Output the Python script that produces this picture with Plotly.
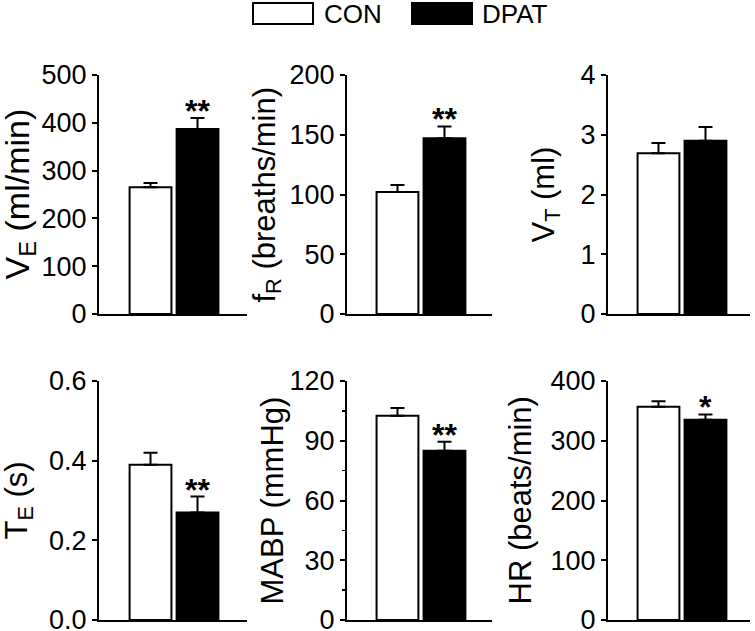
import plotly.graph_objects as go

# ---------------- data ----------------
groups = ["CON", "DPAT"]

ve_mean = [265, 387]
ve_err = [9, 23]
fr_mean = [102, 147]
fr_err = [6, 10]
vt_mean = [2.69, 2.90]
vt_err = [0.17, 0.23]
te_mean = [0.39, 0.27]
te_err = [0.03, 0.04]
mabp_mean = [102.5, 85.0]
mabp_err = [4.0, 4.5]
hr_mean = [357, 335]
hr_err = [9, 9]

ve_sig = ["", "**"]
fr_sig = ["", "**"]
vt_sig = ["", ""]
te_sig = ["", "**"]
mabp_sig = ["", "**"]
hr_sig = ["", "*"]

titles = ["V<sub>E</sub> (ml/min)", "f<sub>R</sub> (breaths/min)", "V<sub>T</sub> (ml)",
          "T<sub>E</sub> (s)", "MABP (mmHg)", "HR (beats/min)"]

y_ranges = [[0, 500], [0, 200], [0, 4], [0, 0.6], [0, 120], [0, 400]]
y_dticks = [100, 50, 1, 0.2, 30, 100]
y_tickformats = ["d", "d", "d", ".1f", "d", "d"]

# ---------------- styling / layout ----------------
W, H = 755, 631
FONT = "Liberation Sans, Arial, Helvetica, sans-serif"
TICK_SIZE = 27
title_sizes = [34, 31, 31, 31, 31, 31]

col_px = [(99, 247), (347, 492), (608, 750)]
row_px = [(75, 314), (381, 620)]
x_ranges = [[-1.096, 2.053], [-1.074, 2.011], [-1.074, 1.947]]
title_x_px = [[19, 266, 545], [18, 272, 520]]

panels = [
    (ve_mean, ve_err, ve_sig),
    (fr_mean, fr_err, fr_sig),
    (vt_mean, vt_err, vt_sig),
    (te_mean, te_err, te_sig),
    (mabp_mean, mabp_err, mabp_sig),
    (hr_mean, hr_err, hr_sig),
]

fig = go.Figure()
layout = dict(
    width=W, height=H, autosize=False,
    margin=dict(l=0, r=0, t=0, b=0, autoexpand=False),
    paper_bgcolor="white", plot_bgcolor="white",
    showlegend=False,
    font=dict(family=FONT, color="black", size=TICK_SIZE),
    bargap=0,
)
annotations = []
shapes = []

for i, (mean, err, sig) in enumerate(panels):
    r, c = divmod(i, 3)
    n = i + 1
    xa = "x" if n == 1 else f"x{n}"
    ya = "y" if n == 1 else f"y{n}"
    fig.add_trace(go.Bar(
        x=groups, y=mean, xaxis=xa, yaxis=ya,
        width=0.89,
        marker=dict(color=["white", "black"], line=dict(color="black", width=2)),
        error_y=dict(type="data", symmetric=False, array=err, arrayminus=[0] * len(err),
                     color="black", thickness=2, width=7),
        hoverinfo="skip",
    ))
    x0, x1 = col_px[c]
    y0, y1 = row_px[r]
    xkey = "xaxis" if n == 1 else f"xaxis{n}"
    ykey = "yaxis" if n == 1 else f"yaxis{n}"
    layout[xkey] = dict(
        domain=[x0 / W, x1 / W], anchor=ya, range=x_ranges[c],
        showline=True, linecolor="black", linewidth=2,
        showticklabels=False, ticks="", showgrid=False, zeroline=False,
        type="category", fixedrange=True, automargin=False,
    )
    ydict = dict(
        domain=[1 - y1 / H, 1 - y0 / H], anchor=xa, range=y_ranges[i],
        dtick=y_dticks[i], tick0=0, tickformat=y_tickformats[i],
        showline=True, linecolor="black", linewidth=2,
        ticks="outside", ticklen=5, tickwidth=2, tickcolor="black",
        showgrid=False, zeroline=False, automargin=False,
        ticklabeloverflow="allow",
        tickfont=dict(family=FONT, size=TICK_SIZE, color="black"),
        fixedrange=True,
    )
    if i == 4:
        ydict["minor"] = dict(dtick=15, ticks="outside", ticklen=3, tickwidth=1.5, tickcolor="black")
    layout[ykey] = ydict
    # axis title (rotated text)
    annotations.append(dict(
        x=title_x_px[r][c] / W, y=1 - (y0 + y1) / 2 / H, xref="paper", yref="paper",
        text=titles[i], textangle=-90, showarrow=False,
        xanchor="center", yanchor="middle",
        font=dict(family=FONT, size=title_sizes[i], color="black"),
    ))
    for g, m, e, s in zip(groups, mean, err, sig):
        if s:
            annotations.append(dict(
                x=g, y=m + e, xref=xa, yref=ya, text="<b>" + s + "</b>", showarrow=False,
                yanchor="bottom", xanchor="center", yshift=-13,
                font=dict(family=FONT, size=32, color="black"),
            ))

# ---------------- legend (drawn) ----------------
legend_items = [("CON", "white", 253, 313, 322), ("DPAT", "black", 412, 472, 480)]
for label, fill, bx0, bx1, tx in legend_items:
    shapes.append(dict(type="rect", xref="paper", yref="paper",
                       x0=bx0 / W, x1=bx1 / W, y0=1 - 24 / H, y1=1 - 3 / H,
                       fillcolor=fill, line=dict(color="black", width=2)))
    annotations.append(dict(x=tx / W, y=1 - 14 / H, xref="paper", yref="paper",
                            text=label, showarrow=False, xanchor="left", yanchor="middle",
                            font=dict(family=FONT, size=26, color="black")))

layout["annotations"] = annotations
layout["shapes"] = shapes
fig.update_layout(**layout)
fig.write_html(
    "out.html",
    config={"displayModeBar": False, "staticPlot": True},
    post_script="document.body.style.margin='0';document.body.style.overflow='hidden';",
)
